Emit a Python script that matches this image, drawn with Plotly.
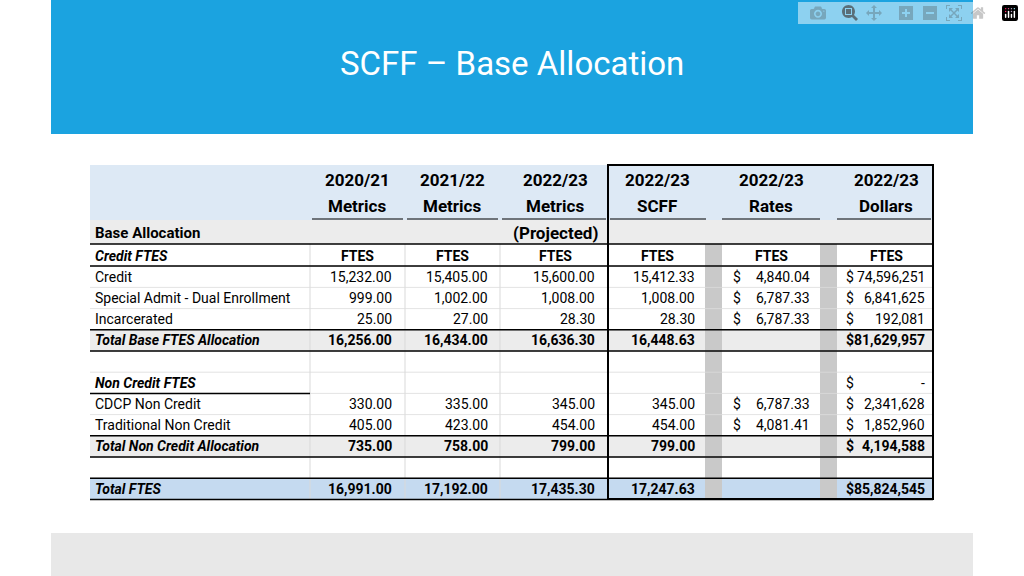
import plotly.graph_objects as go

title = "SCFF – Base Allocation"
head1 = ["2020/21", "2021/22", "2022/23", "2022/23", "2022/23", "2022/23"]
head2 = ["Metrics", "Metrics", "Metrics", "SCFF", "Rates", "Dollars"]
row_labels = ["Credit FTES", "Credit", "Special Admit - Dual Enrollment", "Incarcerated",
              "Total Base FTES Allocation", "", "Non Credit FTES", "CDCP Non Credit",
              "Traditional Non Credit", "Total Non Credit Allocation", "", "Total FTES"]
m2021 = ["FTES", "15,232.00", "999.00", "25.00", "16,256.00", "", "", "330.00", "405.00", "735.00", "", "16,991.00"]
m2122 = ["FTES", "15,405.00", "1,002.00", "27.00", "16,434.00", "", "", "335.00", "423.00", "758.00", "", "17,192.00"]
m2223 = ["FTES", "15,600.00", "1,008.00", "28.30", "16,636.30", "", "", "345.00", "454.00", "799.00", "", "17,435.30"]
scff = ["FTES", "15,412.33", "1,008.00", "28.30", "16,448.63", "", "", "345.00", "454.00", "799.00", "", "17,247.63"]
rates = ["FTES", "4,840.04", "6,787.33", "6,787.33", "", "", "", "6,787.33", "4,081.41", "", "", ""]
dollars = ["FTES", "74,596,251", "6,841,625", "192,081", "81,629,957", "", "-", "2,341,628", "1,852,960", "4,194,588", "", "85,824,545"]
bold_rows = [0, 4, 6, 9, 11]
italic_rows = [0, 4, 6, 9, 11]

FONT = "Liberation Sans Narrow, Roboto, sans-serif"
fig = go.Figure()
shapes = []
ann = []

def rect(x0, y0, x1, y1, color, line=None):
    shapes.append(dict(type="rect", x0=x0, y0=y0, x1=x1, y1=y1, fillcolor=color,
                       line=dict(width=0) if line is None else line, layer="below"))

def hline(x0, x1, y, w=1.5, color="black"):
    shapes.append(dict(type="line", x0=x0, x1=x1, y0=y, y1=y, line=dict(color=color, width=w)))

def vline(x, y0, y1, w=1, color="#d9d9d9"):
    shapes.append(dict(type="line", x0=x, x1=x, y0=y0, y1=y1, line=dict(color=color, width=w)))

def text(x, y, s, anchor="center", size=14, bold=False, italic=False, color="black"):
    if bold:
        s = "<b>" + s + "</b>"
    if italic:
        s = "<i>" + s + "</i>"
    ann.append(dict(x=x, y=y, text=s, xanchor=anchor, yanchor="middle", showarrow=False,
                    font=dict(family=FONT, size=size, color=color)))

# slide background
rect(51, 0, 973, 134, "#1ba3e0")
rect(51, 533, 973, 576, "#e8e8e8")
text(512, 63, title, size=33, color="white")

# table backgrounds
rect(90, 165, 933, 220, "#dde9f5")
rect(90, 220, 933, 244, "#ececec")
row_top = 245
rh = 21.2
rows_y = [row_top + rh * i + rh / 2 for i in range(len(row_labels))]
for i in [4, 9]:
    rect(90, rows_y[i] - rh / 2, 933, rows_y[i] + rh / 2, "#ececec")
rect(90, rows_y[11] - rh / 2, 933, rows_y[11] + rh / 2, "#c5daf0")
rect(705, 244, 722, 499, "#c9c9c9")
rect(820, 244, 837, 499, "#c9c9c9")

col_edges = [310, 405, 500, 608]
for x in col_edges:
    vline(x, 244, 499)
for y in [rows_y[i] + rh / 2 for i in range(len(row_labels))]:
    hline(90, 933, y, 0.8, "#dcdcdc")

# black rules
hline(90, 933, 244)
hline(90, 933, 266)
hline(90, 933, rows_y[4] - rh / 2)
hline(90, 933, rows_y[4] + rh / 2)
hline(90, 310, rows_y[6] + rh / 2)
hline(90, 933, rows_y[9] - rh / 2)
hline(90, 933, rows_y[9] + rh / 2)
hline(90, 933, rows_y[11] - rh / 2)
hline(90, 933, rows_y[11] + rh / 2)
for x0, x1 in [(312, 403), (407, 498), (502, 606), (610, 706), (722, 820), (837, 931)]:
    hline(x0, x1, 219, 1.2)
shapes.append(dict(type="rect", x0=608, x1=933, y0=165, y1=499, line=dict(color="black", width=2)))

# headers
centers = [357, 452, 555, 657, 771, 886]
for c, a, b in zip(centers, head1, head2):
    text(c, 180, a, size=17, bold=True)
    text(c, 206, b, size=17, bold=True)
text(555, 233, "(Projected)", size=17, bold=True)
text(93, 233, "Base Allocation", anchor="left", size=15, bold=True)

for i, y in enumerate(rows_y):
    b = i in bold_rows
    text(93, y, row_labels[i], anchor="left", bold=b, italic=i in italic_rows)
    if i == 0:
        for c in centers:
            text(c, y, "FTES", bold=True)
        continue
    for right, vals in zip([394, 490, 597, 697], [m2021, m2122, m2223, scff]):
        if vals[i]:
            text(right, y, vals[i], anchor="right", bold=b)
    if rates[i]:
        text(731, y, "$", anchor="left")
        text(812, y, rates[i], anchor="right")
    if dollars[i]:
        text(844, y, "$", anchor="left", bold=b and i != 6)
        text(927, y, dollars[i], anchor="right", bold=b and i != 6)

fig.update_layout(
    width=1024, height=576, margin=dict(l=0, r=0, t=0, b=0),
    plot_bgcolor="white", paper_bgcolor="white",
    xaxis=dict(range=[0, 1024], visible=False),
    yaxis=dict(range=[576, 0], visible=False),
    shapes=shapes, annotations=ann, showlegend=False,
)
fig.write_html("out.html", post_script="document.body.style.margin='0';")
